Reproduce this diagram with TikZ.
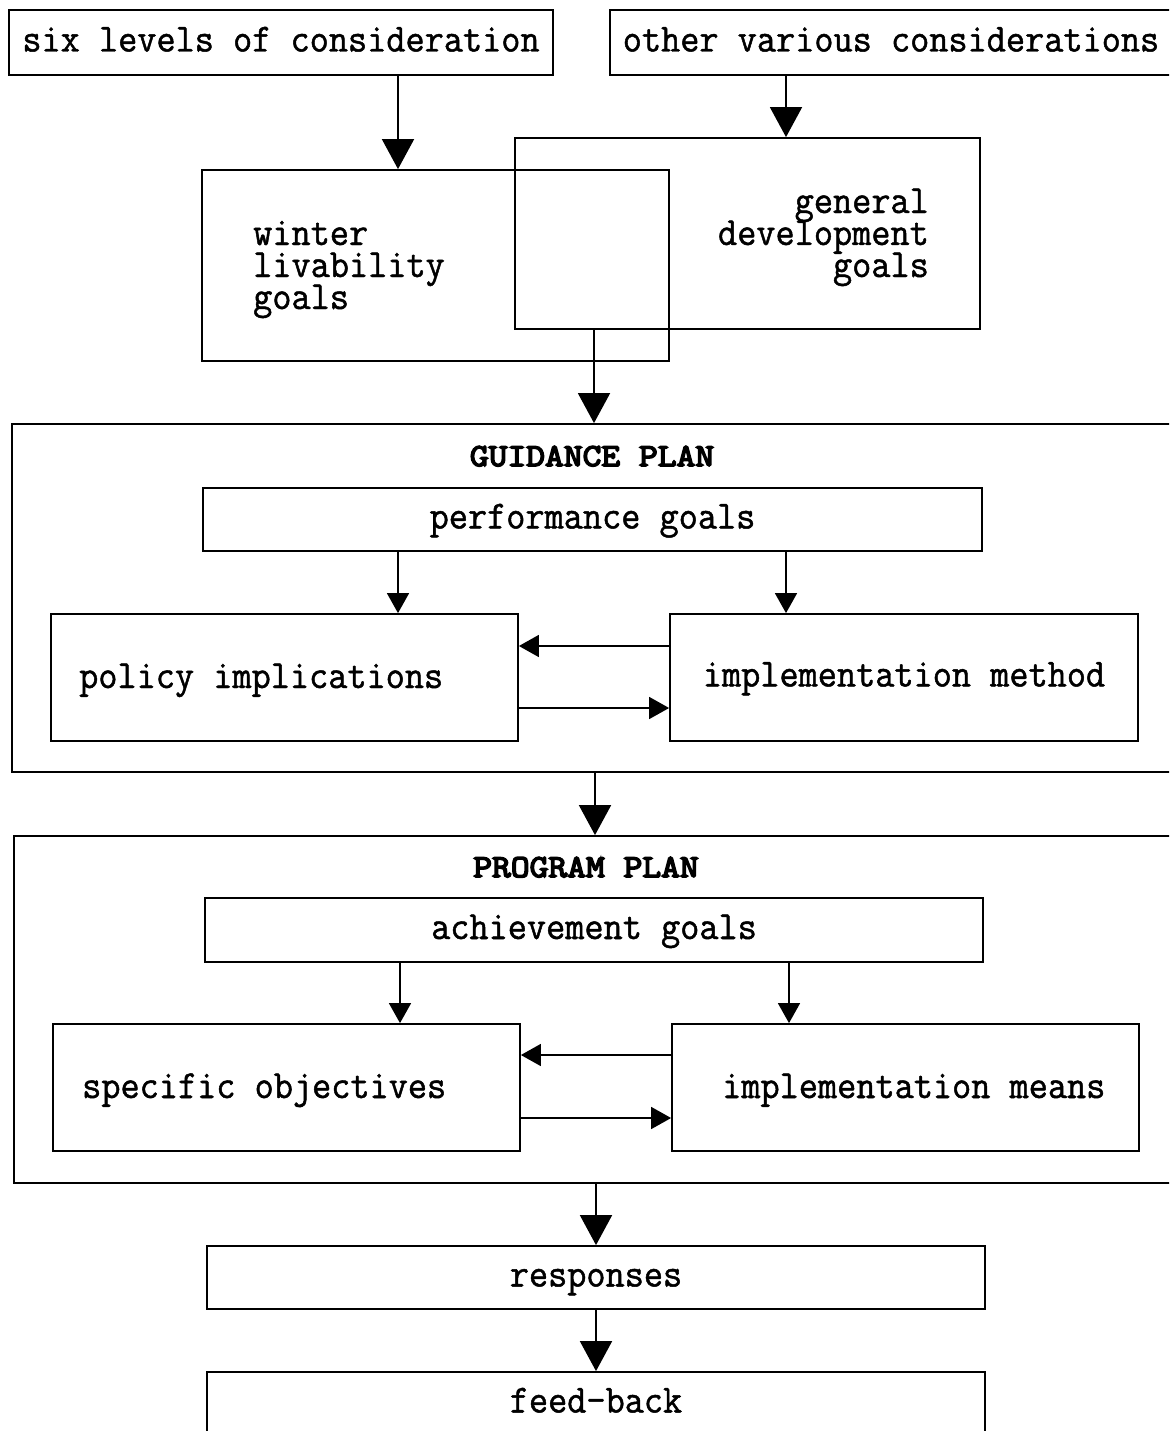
\documentclass[tikz,border=0pt]{standalone}
\usepackage{fontspec}
\newfontfamily\courfont{Latin Modern Mono}[FakeStretch=0.93,FakeBold=1.2]
\newfontfamily\headfont{Latin Modern Mono}[FakeStretch=1.14,FakeBold=5]
\newcommand\tightlines{\lineskiplimit=-100pt\relax\lineskip=0pt\relax}
\usetikzlibrary{arrows.meta}
\begin{document}
\begin{tikzpicture}[x=1pt,y=-1pt,
  box/.style={draw, line width=1.8pt, rectangle, inner sep=0pt,
    text height=25pt, text depth=7pt,
    font=\courfont\fontsize{40}{32}\selectfont},
  txt/.style={inner sep=0pt, align=left,
    font=\courfont\fontsize{40}{32}\selectfont\tightlines},
  head/.style={inner sep=0pt, font=\headfont\fontsize{32}{32}\selectfont},
  big/.style={line width=1.8pt, -{Triangle[length=30pt,width=32pt]}},
  small/.style={line width=1.6pt, -{Triangle[length=20pt,width=22pt]}}
]
\useasboundingbox (0,0) rectangle (1169,1431);
\fill[white] (0,0) rectangle (1169,1431);
\clip (0,0) rectangle (1169,1431);

% top boxes
\node[box, minimum width=544pt, minimum height=65pt] (six) at (281,42.5) {six levels of consideration};
\node[box, minimum width=562pt, minimum height=65pt] (other) at (891,42.5) {other various considerations};

% goals boxes
\node[box, minimum width=467pt, minimum height=191pt] (winter) at (435.5,265.5) {};
\node[box, minimum width=465pt, minimum height=191pt] (general) at (747.5,233.5) {};
\node[txt, anchor=base west] (winterT) at (253,309) {winter\\livability\\goals};
\node[txt, align=right, anchor=base east] (generalT) at (929,277) {general\\development\\goals};

% guidance plan
\node[box, minimum width=1160pt, minimum height=348pt] (guidance) at (592,598) {};
\node[head, anchor=base] (guidanceT) at (592,466) {GUIDANCE PLAN};
\node[box, minimum width=779pt, minimum height=63pt] (perf) at (592.5,519.5) {performance goals};
\node[box, minimum width=467pt, minimum height=127pt] (policy) at (284.5,677.5) {};
\node[txt, anchor=base west] (policyT) at (79,688) {policy implications};
\node[box, minimum width=468pt, minimum height=127pt] (method) at (904,677.5) {implementation method};

% program plan
\node[box, minimum width=1160pt, minimum height=347pt] (program) at (594,1009.5) {};
\node[head, anchor=base] (programT) at (586,877) {PROGRAM PLAN};
\node[box, minimum width=778pt, minimum height=64pt] (achieve) at (594,930) {achievement goals};
\node[box, minimum width=467pt, minimum height=127pt] (specific) at (286.5,1087.5) {};
\node[txt, anchor=base west] (specificT) at (82,1098) {specific objectives};
\node[box, minimum width=467pt, minimum height=127pt] (means) at (905.5,1087.5) {};
\node[txt, anchor=base west] (meansT) at (722,1098) {implementation means};

% bottom
\node[box, minimum width=778pt, minimum height=63pt] (responses) at (596,1277.5) {responses};
\node[box, minimum width=778pt, minimum height=63pt] (feedback) at (596,1403.5) {feed-back};

% helper columns and rows
\coordinate (cL) at (398,0);
\coordinate (cR) at (786,0);
\coordinate (cM1) at (594,0);
\coordinate (cM2) at (595,0);
\coordinate (cL2) at (400,0);
\coordinate (cR2) at (789,0);
\coordinate (rA) at (0,646);
\coordinate (rB) at (0,708);
\coordinate (rC) at (0,1055);
\coordinate (rD) at (0,1118);

% connectors
\draw[big] (six.south -| cL) -- (winter.north -| cL);
\draw[big] (other.south -| cR) -- (general.north -| cR);
\draw[big] (general.south -| cM1) -- (guidance.north -| cM1);
\draw[small] (perf.south -| cL) -- (policy.north -| cL);
\draw[small] (perf.south -| cR) -- (method.north -| cR);
\draw[small] (method.west |- rA) -- (policy.east |- rA);
\draw[small] (policy.east |- rB) -- (method.west |- rB);
\draw[big] (guidance.south -| cM2) -- (program.north -| cM2);
\draw[small] (achieve.south -| cL2) -- (specific.north -| cL2);
\draw[small] (achieve.south -| cR2) -- (means.north -| cR2);
\draw[small] (means.west |- rC) -- (specific.east |- rC);
\draw[small] (specific.east |- rD) -- (means.west |- rD);
\draw[big] (program.south -| responses.north) -- (responses.north);
\draw[big] (responses.south) -- (feedback.north);
\end{tikzpicture}
\end{document}
